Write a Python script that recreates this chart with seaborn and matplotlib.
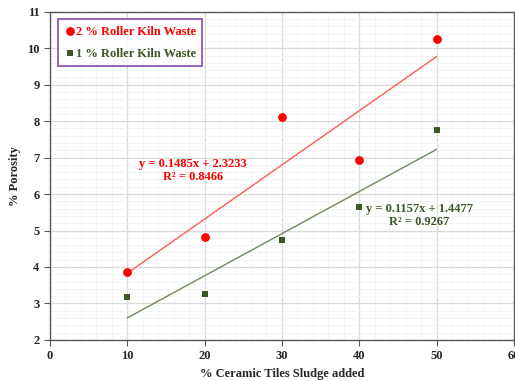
import seaborn as sns
import numpy as np
import pandas as pd
import matplotlib.pyplot as plt
from matplotlib.ticker import MultipleLocator

sludge = [10, 20, 30, 40, 50]
porosity_2pct = [3.87, 4.83, 8.12, 6.93, 10.25]
porosity_1pct = [3.17, 3.25, 4.75, 5.65, 7.75]
labels = ["2 % Roller Kiln Waste", "1 % Roller Kiln Waste"]

red = "#FF0000"
green = "#3B5727"

sns.set_style("white")
plt.rcParams['font.family'] = ['Liberation Serif', 'DejaVu Serif']
plt.rcParams['font.weight'] = 'bold'

fig = plt.figure(figsize=(5.15, 3.81), dpi=100)
ax = fig.add_axes([0.097, 0.108, 0.901, 0.861])

x = np.array(sludge)
fits = []
for y in (porosity_2pct, porosity_1pct):
    m, b = np.polyfit(x, y, 1)
    fits.append(pd.DataFrame({"x": [x.min(), x.max()], "y": [m * x.min() + b, m * x.max() + b]}))

sns.lineplot(data=fits[0], x="x", y="y", color="#FF5A5A", lw=1, ax=ax, zorder=2)
sns.lineplot(data=fits[1], x="x", y="y", color="#6E8A5E", lw=1, ax=ax, zorder=2)
sns.scatterplot(x=sludge, y=porosity_2pct, color=red, marker="o", s=40, edgecolor=red,
                linewidth=0, ax=ax, label=labels[0], zorder=3)
sns.scatterplot(x=sludge, y=porosity_1pct, color=green, marker="s", s=25, edgecolor=green,
                linewidth=0, ax=ax, label=labels[1], zorder=3)

ax.set_xlim(0, 60)
ax.set_ylim(2, 11)
ax.xaxis.set_major_locator(MultipleLocator(10))
ax.yaxis.set_major_locator(MultipleLocator(1))
ax.xaxis.set_minor_locator(MultipleLocator(2))
ax.yaxis.set_minor_locator(MultipleLocator(0.2))
ax.grid(True, which="major", color="#D9D9D9", lw=0.9)
ax.grid(True, which="minor", color="#F2F2F2", lw=0.6)
ax.set_axisbelow(True)
for sp in ax.spines.values():
    sp.set_color("#595959")
    sp.set_linewidth(1)
ax.tick_params(axis="both", which="major", length=4, direction="out", color="#595959",
               labelsize=9, bottom=True, left=True)
for lbl in ax.get_xticklabels() + ax.get_yticklabels():
    lbl.set_fontweight("bold")

ax.set_xlabel("% Ceramic Tiles Sludge added", fontsize=9, fontweight="bold")
ax.set_ylabel("% Porosity", fontsize=9, fontweight="bold")

leg = ax.legend(loc="upper left", bbox_to_anchor=(0.01, 0.988), frameon=True, fancybox=False,
                handletextpad=0.0, handlelength=0.9, borderpad=0.5, labelspacing=0.8,
                borderaxespad=0.3, prop={"weight": "bold", "size": 9})
leg.get_frame().set_edgecolor("#7030A0")
leg.get_frame().set_linewidth(1.3)
for t, c in zip(leg.get_texts(), [red, green]):
    t.set_color(c)

ax.text(18.5, 6.65, "y = 0.1485x + 2.3233\nR² = 0.8466", color=red, fontsize=9,
        fontweight="bold", ha="center", va="center", linespacing=1.1)
ax.text(47.8, 5.4, "y = 0.1157x + 1.4477\nR² = 0.9267", color=green, fontsize=9,
        fontweight="bold", ha="center", va="center", linespacing=1.1)

fig.savefig("out.png", dpi=100)
